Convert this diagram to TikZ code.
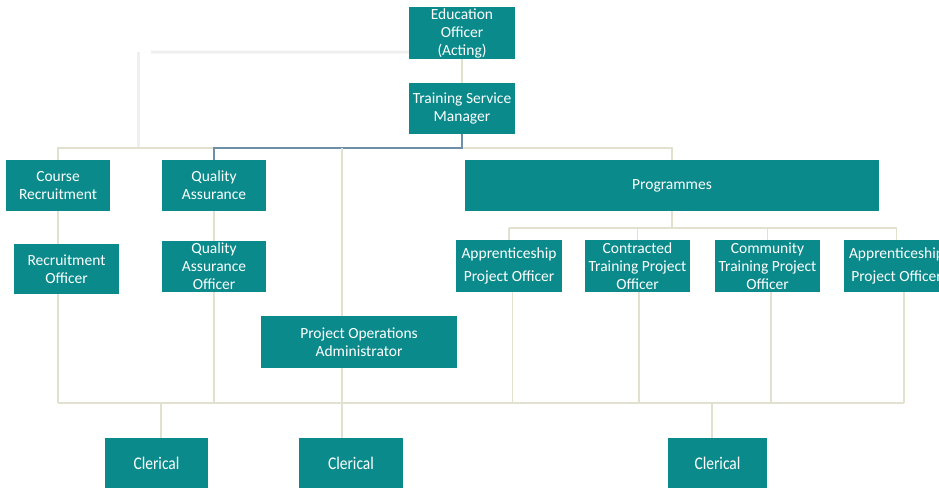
\documentclass[tikz,border=0pt]{standalone}
\usepackage{fontspec}
\setmainfont{Carlito}
\definecolor{postfill}{HTML}{0B8A8C}
\definecolor{linkcol}{HTML}{E2E0CF}
\definecolor{mgrline}{HTML}{6F8FA8}
\definecolor{paleline}{HTML}{EFEFEF}
\tikzset{
  post/.style={fill=postfill, text=white, inner sep=0pt, align=center,
    minimum width=105, minimum height=51, font=\fontsize{15.5}{18}\selectfont},
  link/.style={draw=linkcol, line width=1.5pt},
}
\begin{document}
\begin{tikzpicture}[x=1pt, y=-1pt]
            \useasboundingbox (0,0) rectangle (939,488);

            \coordinate (topbus) at (0,148);
            \coordinate (progbus) at (0,228);
            \coordinate (botbus) at (0,403);
            \coordinate (oldend) at (151,52);
            \coordinate (oldtop) at (138,52);

            \node[post, minimum width=106, minimum height=52] (edu) at (462,33) {Education\\Officer\\(Acting)};
            \node[post, minimum width=106] (tsm) at (462,108.5) {Training Service\\Manager};
            \node[post, minimum width=104] (cr) at (58,185.5) {Course\\Recruitment};
            \node[post, minimum width=104] (qa) at (214,185.5) {Quality\\Assurance};
            \node[post, minimum width=414] (prog) at (672,185.5) {Programmes};
            \node[post, minimum height=50] (ro) at (66.5,269) {Recruitment\\Officer};
            \node[post, minimum width=104] (qao) at (214,266.5) {Quality\\Assurance\\Officer};
            \node[post, minimum width=196, minimum height=52] (poa) at (359,342) {Project Operations\\Administrator};
            \node[post, minimum width=106, minimum height=52] (ap1) at (509,266) {Apprenticeship\\[5pt]Project Officer};
            \node[post, minimum height=52] (ctp) at (637.5,266) {Contracted\\Training Project\\Officer};
            \node[post, minimum height=52] (cmp) at (767.5,266) {Community\\Training Project\\Officer};
            \node[post, minimum height=52] (ap2) at (896.5,266) {Apprenticeship\\[5pt]Project Officer};
            \node[post, minimum width=103, minimum height=50] (cl1) at (156.5,463) {\scalebox{1}[1.15]{Clerical}};
            \node[post, minimum width=104, minimum height=50] (cl2) at (351,463) {\scalebox{1}[1.15]{Clerical}};
            \node[post, minimum width=99, minimum height=50] (cl3) at (717.5,463) {\scalebox{1}[1.15]{Clerical}};

            % old reporting line
            \draw[draw=paleline, line width=3pt] ([yshift=7]edu.south west) -- (oldend);
            \draw[draw=paleline, line width=3pt] (oldtop) -- (oldtop |- topbus);

            \draw[link] (edu) -- (tsm);
            \draw[link] (cr.north) -- (cr.north |- topbus) -| (prog.north);
            \draw[mgrline, line width=1.5pt] (tsm.south) -- (tsm.south |- topbus) -| (qa.north);
            \draw[link] ([xshift=-17]poa.north) -- ([xshift=-17]poa.north |- topbus);
            \draw[link] ([xshift=-17]poa.south) -- ([xshift=-17]poa.south |- cl2.north);

            \draw[link] (cr.south) -- (cr.south |- ro.north);
            \draw[link] (cr.south |- ro.south) -- (cr.south |- botbus);
            \draw[link] (qa) -- (qao);
            \draw[link] (qao.south) -- (qao.south |- botbus);

            \draw[link] (prog.south) -- (prog.south |- progbus);
            \draw[link] (ap1.north |- progbus) -- (ap2.north |- progbus);
            \foreach \n/\s in {ap1/3.5, ctp/1.5, cmp/3.5, ap2/7.5} {
              \draw[link] (\n.north) -- (\n.north |- progbus);
              \draw[link] ([xshift=\s]\n.south) -- ([xshift=\s]\n.south |- botbus);
            }

            \draw[link] (cr.south |- botbus) -- ([xshift=7.5]ap2.south |- botbus);
            \draw[link] ([xshift=4.5]cl1.north) -- ([xshift=4.5]cl1.north |- botbus);
            \draw[link] ([xshift=-5.5]cl3.north) -- ([xshift=-5.5]cl3.north |- botbus);
        \end{tikzpicture}
\end{document}
